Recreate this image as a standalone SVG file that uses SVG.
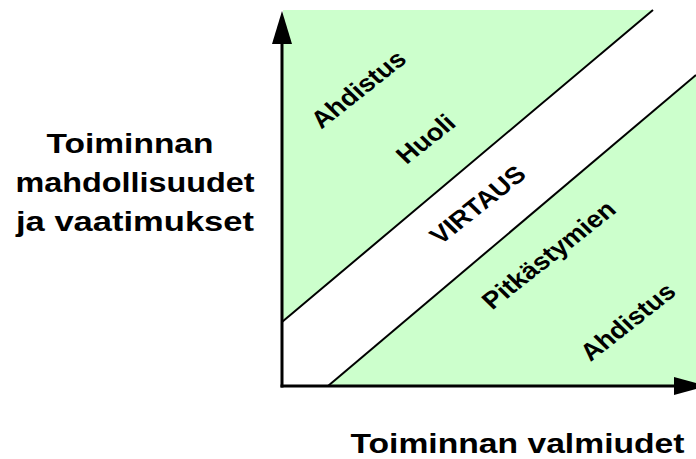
<svg xmlns="http://www.w3.org/2000/svg" width="696" height="459" viewBox="0 0 696 459">
  <style>
    .zone { fill: #ccffcc; stroke: none; }
    .edge { stroke: #000; stroke-width: 2; fill: none; }
    .axis { stroke: #000; stroke-width: 3; fill: none; }
    .head { fill: #000; stroke: none; }
    .lbl { font-family: "Liberation Sans", Arial, sans-serif; font-weight: bold; fill: #000; }
    .title { font-size: 28px; text-anchor: middle; }
    .diag { font-size: 24px; text-anchor: middle; }
  </style>

  <rect width="696" height="459" fill="#ffffff"/>

  <!-- shaded zones either side of the flow channel -->
  <g id="zone-upper">
    <polygon class="zone" points="283,10 653,10 283,322"/>
  </g>
  <g id="zone-lower">
    <polygon class="zone" points="328,386 696,75 696,386"/>
  </g>

  <!-- channel boundaries and axes -->
  <g id="connectors">
    <line class="edge" x1="282" y1="322" x2="653" y2="10"/>
    <line class="edge" x1="328" y1="386" x2="696" y2="75"/>
    <line class="axis" x1="282" y1="387.5" x2="282" y2="40"/>
    <line class="axis" x1="280.5" y1="386" x2="678" y2="386"/>
    <polygon class="head" points="282,11 272,44 292,44"/>
    <polygon class="head" points="707,386 674,377 674,395"/>
  </g>

  <!-- axis titles -->
  <g id="axis-y-title">
    <text class="lbl title" x="130" y="153" textLength="167" lengthAdjust="spacingAndGlyphs">Toiminnan</text>
    <text class="lbl title" x="135" y="192" textLength="239" lengthAdjust="spacingAndGlyphs">mahdollisuudet</text>
    <text class="lbl title" x="135" y="231" textLength="238" lengthAdjust="spacingAndGlyphs">ja vaatimukset</text>
  </g>
  <g id="axis-x-title">
    <text class="lbl title" x="517.5" y="453" textLength="334" lengthAdjust="spacingAndGlyphs">Toiminnan valmiudet</text>
  </g>

  <!-- zone labels along the diagonal -->
  <g id="label-ahdistus-upper">
    <text class="lbl diag" transform="translate(364.6,95.4) scale(1.14,1) rotate(-42)">Ahdistus</text>
  </g>
  <g id="label-huoli">
    <text class="lbl diag" transform="translate(432,145) scale(1.14,1) rotate(-42)">Huoli</text>
  </g>
  <g id="label-virtaus">
    <text class="lbl diag" transform="translate(484,211) scale(1.14,1) rotate(-42)">VIRTAUS</text>
  </g>
  <g id="label-pitkastymien">
    <text class="lbl diag" transform="translate(555,261) scale(1.14,1) rotate(-42)">Pitkästymien</text>
  </g>
  <g id="label-ahdistus-lower">
    <text class="lbl diag" transform="translate(634,328) scale(1.14,1) rotate(-42)">Ahdistus</text>
  </g>
</svg>
